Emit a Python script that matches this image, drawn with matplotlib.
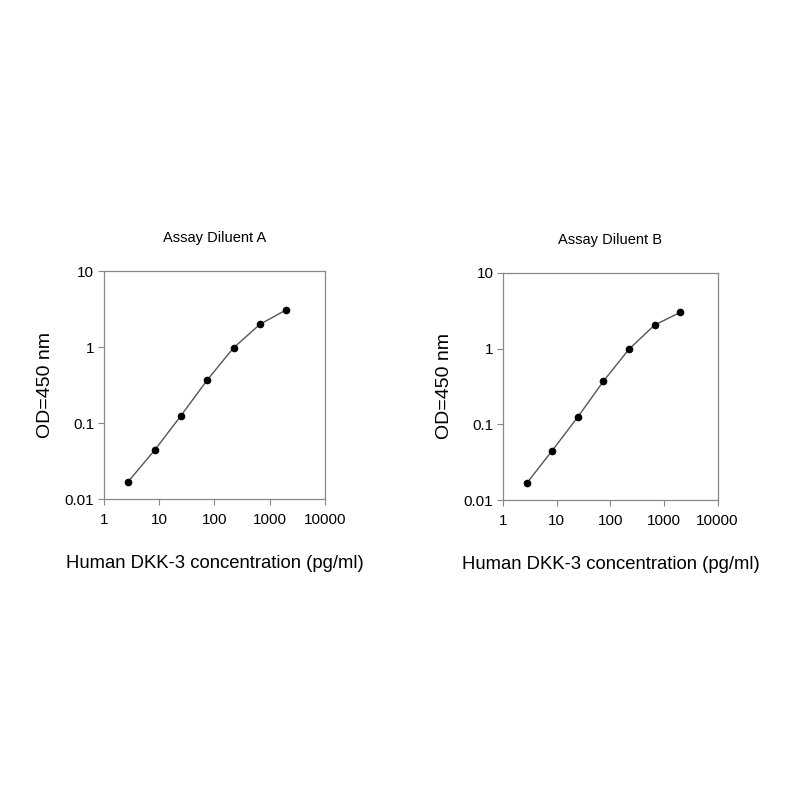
import numpy as np
import matplotlib
matplotlib.use("Agg")
from matplotlib import pyplot as plt
from matplotlib.ticker import FixedLocator, NullLocator

# standard curve, 3-fold dilutions
conc_a = [2.74, 8.23, 24.7, 74.1, 222.2, 666.7, 2000]
od_a = [0.017, 0.044, 0.125, 0.37, 0.98, 2.0, 3.1]

conc_b = [2.74, 8.23, 24.7, 74.1, 222.2, 666.7, 2000]
od_b = [0.0166, 0.045, 0.125, 0.37, 0.98, 2.04, 3.0]

x_ticks = [1, 10, 100, 1000, 10000]
x_labels = ["1", "10", "100", "1000", "10000"]
y_ticks = [0.01, 0.1, 1, 10]
y_labels = ["0.01", "0.1", "1", "10"]

titles = ["Assay Diluent A", "Assay Diluent B"]
xlabel = "Human DKK-3 concentration (pg/ml)"
ylabel = "OD=450 nm"

plt.rcParams['font.family'] = ['Liberation Sans', 'DejaVu Sans']

fig = plt.figure(figsize=(8, 8), dpi=100)
axes = [fig.add_axes([0.130, 0.376, 0.276, 0.285]),
        fig.add_axes([0.629, 0.375, 0.268, 0.284])]

for ax, conc, od, title in zip(axes, [conc_a, conc_b], [od_a, od_b], titles):
    ax.plot(conc, od, color='#555555', lw=1.0, marker='o', ms=4.5,
            mfc='black', mec='black')
    ax.set_xscale('log')
    ax.set_yscale('log')
    ax.set_xlim(1, 10000)
    ax.set_ylim(0.01, 10)
    ax.xaxis.set_major_locator(FixedLocator(x_ticks))
    ax.xaxis.set_minor_locator(NullLocator())
    ax.set_xticklabels(x_labels)
    ax.yaxis.set_major_locator(FixedLocator(y_ticks))
    ax.yaxis.set_minor_locator(NullLocator())
    ax.set_yticklabels(y_labels)
    ax.tick_params(labelsize=11, length=4, width=0.8, color='#888888',
                   pad=3)
    ax.tick_params(axis='x', pad=6)
    for sp in ax.spines.values():
        sp.set_color('#888888')
        sp.set_linewidth(0.9)
    ax.set_title(title, fontsize=10.5, pad=21)
    ax.set_xlabel(xlabel, fontsize=13.3, labelpad=20)
    ax.set_ylabel(ylabel, fontsize=14, labelpad=8)

plt.savefig('out.png', dpi=100)
